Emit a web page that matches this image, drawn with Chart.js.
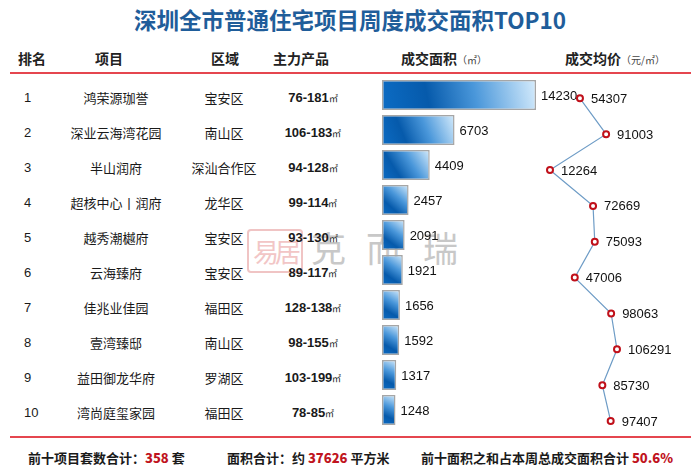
<!DOCTYPE html>
<html lang="zh-CN">
<head>
<meta charset="utf-8">
<title>深圳全市普通住宅项目周度成交面积TOP10</title>
<script src="https://cdn.jsdelivr.net/npm/chart.js@4/dist/chart.umd.min.js"></script>
<style>
  html, body { margin: 0; padding: 0; background: #fff; }
  body { width: 700px; height: 475px; position: relative; overflow: hidden;
         font-family: "Noto Sans CJK SC", "DejaVu Sans", sans-serif; color: #1a1a1a; }
  .abs { position: absolute; white-space: nowrap; }
  #title { left: 0; width: 700px; top: 3px; text-align: center; font-size: 22.5px; font-weight: 700;
           color: #1f5d9a; }
  .hd { top: 47px; font-size: 14px; font-weight: 700; color: #222; line-height: 22px; }
  .hd small { font-size: 10px; font-weight: 400; color: #444; }
  .rule { left: 10px; width: 681px; height: 2px; background: #e5464f; }
  .cell { height: 35px; line-height: 35px; font-size: 13px; }
  .num { font-family: "Liberation Sans", Arial, sans-serif; }
  .prod { font-family: "Liberation Sans", Arial, sans-serif; font-weight: 700; }
  .prod small { font-size: 9px; font-weight: 400; }
  .foot { top: 448px; font-size: 13px; font-weight: 700; color: #1a1a1a; line-height: 20px; }
  .foot b { color: #c0141e; }
  /* watermark */
  #seal { left: 247px; top: 229px; width: 52px; height: 40px; border: 2px solid #f0c4c4;
          border-radius: 4px; color: #f2c6c6; font-size: 26px; line-height: 40px; text-align: center;
          letter-spacing: -4px; }
  .wm { top: 227px; font-size: 35px; color: #c8c8c8; line-height: 40px; }
  .chartBox { position: absolute; left: 370px; top: 75px; width: 330px; height: 365px; }
</style>
</head>
<body>

<div id="seal" class="abs">易居</div>
<div class="abs wm" style="left:311px">克</div>
<div class="abs wm" style="left:366px">而</div>
<div class="abs wm" style="left:423px">瑞</div>

<div id="title" class="abs">深圳全市普通住宅项目周度成交面积TOP10</div>

<div class="abs hd" style="left:18px">排名</div>
<div class="abs hd" style="left:95px">项目</div>
<div class="abs hd" style="left:211px">区域</div>
<div class="abs hd" style="left:273px">主力产品</div>
<div class="abs hd" style="left:401px">成交面积<small>（㎡）</small></div>
<div class="abs hd" style="left:565px">成交均价<small>（元/㎡）</small></div>

<div class="abs rule" style="top:72px"></div>
<div class="abs rule" style="top:436px"></div>

<div id="rows"></div>

<div class="chartBox"><canvas id="chartArea"></canvas></div>
<div class="chartBox"><canvas id="chartPrice"></canvas></div>

<div class="abs foot" style="left:28px">前十项目套数合计：<b>358</b> 套</div>
<div class="abs foot" style="left:227px">面积合计：约 <b>37626</b> 平方米</div>
<div class="abs foot" style="left:421px">前十面积之和占本周总成交面积合计 <b>50.6%</b></div>

<script>
/* =============================================
   DATA
   ============================================= */
const ranks = ['1', '2', '3', '4', '5', '6', '7', '8', '9', '10'];
const projects = ['鸿荣源珈誉', '深业云海湾花园', '半山润府', '超核中心丨润府', '越秀潮樾府',
                  '云海臻府', '佳兆业佳园', '壹湾臻邸', '益田御龙华府', '湾尚庭玺家园'];
const districts = ['宝安区', '南山区', '深汕合作区', '龙华区', '宝安区',
                   '宝安区', '福田区', '南山区', '罗湖区', '福田区'];
const products = ['76-181', '106-183', '94-128', '99-114', '93-130',
                  '89-117', '128-138', '98-155', '103-199', '78-85'];
const areas = [14230, 6703, 4409, 2457, 2091, 1921, 1656, 1592, 1317, 1248];
const prices = [54307, 91003, 12264, 72669, 75093, 47006, 98063, 106291, 85730, 97407];

/* =============================================
   LEFT TABLE COLUMNS
   ============================================= */
function renderRows() {
  const box = document.getElementById('rows');
  box.innerHTML = projects.map((p, i) => {
    const top = 80 + i * 35;
    return `
      <div class="abs cell num" style="left:24px;top:${top}px">${ranks[i]}</div>
      <div class="abs cell" style="left:56px;width:120px;text-align:center;top:${top}px">${p}</div>
      <div class="abs cell" style="left:184px;width:80px;text-align:center;top:${top}px">${districts[i]}</div>
      <div class="abs cell prod" style="left:263px;width:100px;text-align:center;top:${top}px">${products[i]}<small>㎡</small></div>
    `;
  }).join('');
}
renderRows();

/* =============================================
   SHARED
   ============================================= */
const PAD = { left: 12, right: 10, top: 2.5, bottom: 12.5 };
const LABEL_FONT = '13px "Liberation Sans", Arial, sans-serif';

// bar fill: dark blue bottom-left fading to pale blue top-right
function barFill(c) {
  const chart = c.chart;
  const sx = chart.scales.x, sy = chart.scales.y;
  if (!sx || !sy || c.type !== 'data') return '#1670c2';
  const x0 = sx.getPixelForValue(0);
  const x1 = sx.getPixelForValue(c.raw);
  const yc = sy.getPixelForValue(c.dataIndex);
  if (![x0, x1, yc].every(Number.isFinite)) return '#1670c2';
  const g = chart.ctx.createLinearGradient(x0, yc + 15, x1, yc - 15);
  g.addColorStop(0, '#0c6cc4');
  g.addColorStop(0.3, '#065aab');
  g.addColorStop(0.6, '#4a97da');
  g.addColorStop(1, '#d6ecfc');
  return g;
}

/* value text right of each mark */
function labelPlugin(values, dx) {
  return {
    id: 'valueLabels',
    afterDatasetsDraw(chart) {
      const c = chart.ctx;
      c.save();
      c.font = LABEL_FONT;
      c.fillStyle = '#111';
      c.textBaseline = 'middle';
      chart.getDatasetMeta(0).data.forEach((el, i) => {
        c.fillText(values[i], el.x + dx, el.y + 1);
      });
      c.restore();
    }
  };
}

/* =============================================
   AREA BARS
   ============================================= */
new Chart(document.getElementById('chartArea'), {
  type: 'bar',
  data: {
    labels: projects,
    datasets: [{
      label: '成交面积',
      data: areas,
      backgroundColor: barFill,
      borderColor: '#a6a6a6',
      borderWidth: 1.5,
      borderSkipped: false,
      barPercentage: 0.86,
      categoryPercentage: 1
    }]
  },
  options: {
    indexAxis: 'y',
    responsive: true,
    maintainAspectRatio: false,
    animation: false,
    layout: { padding: PAD },
    plugins: { legend: { display: false }, tooltip: { enabled: false } },
    scales: {
      x: { display: false, min: 0, max: 28460 },
      y: { display: false, offset: true }
    }
  },
  plugins: [labelPlugin(areas, 5)]
});

/* =============================================
   PRICE LINE
   ============================================= */
new Chart(document.getElementById('chartPrice'), {
  type: 'line',
  data: {
    datasets: [{
      label: '成交均价',
      data: prices.map((v, i) => ({ x: v, y: i })),
      borderColor: '#6e9cc6',
      borderWidth: 1.2,
      pointRadius: 3,
      pointBorderWidth: 2,
      pointBorderColor: '#c0101a',
      pointBackgroundColor: '#fff',
      tension: 0
    }]
  },
  options: {
    indexAxis: 'y',
    responsive: true,
    maintainAspectRatio: false,
    animation: false,
    layout: { padding: PAD },
    plugins: { legend: { display: false }, tooltip: { enabled: false } },
    scales: {
      x: { display: false, type: 'linear', min: -223491, max: 208729 },
      y: { display: false, type: 'linear', reverse: true, min: -0.483, max: 9.18 }
    }
  },
  plugins: [labelPlugin(prices, 11)]
});
</script>
</body>
</html>
